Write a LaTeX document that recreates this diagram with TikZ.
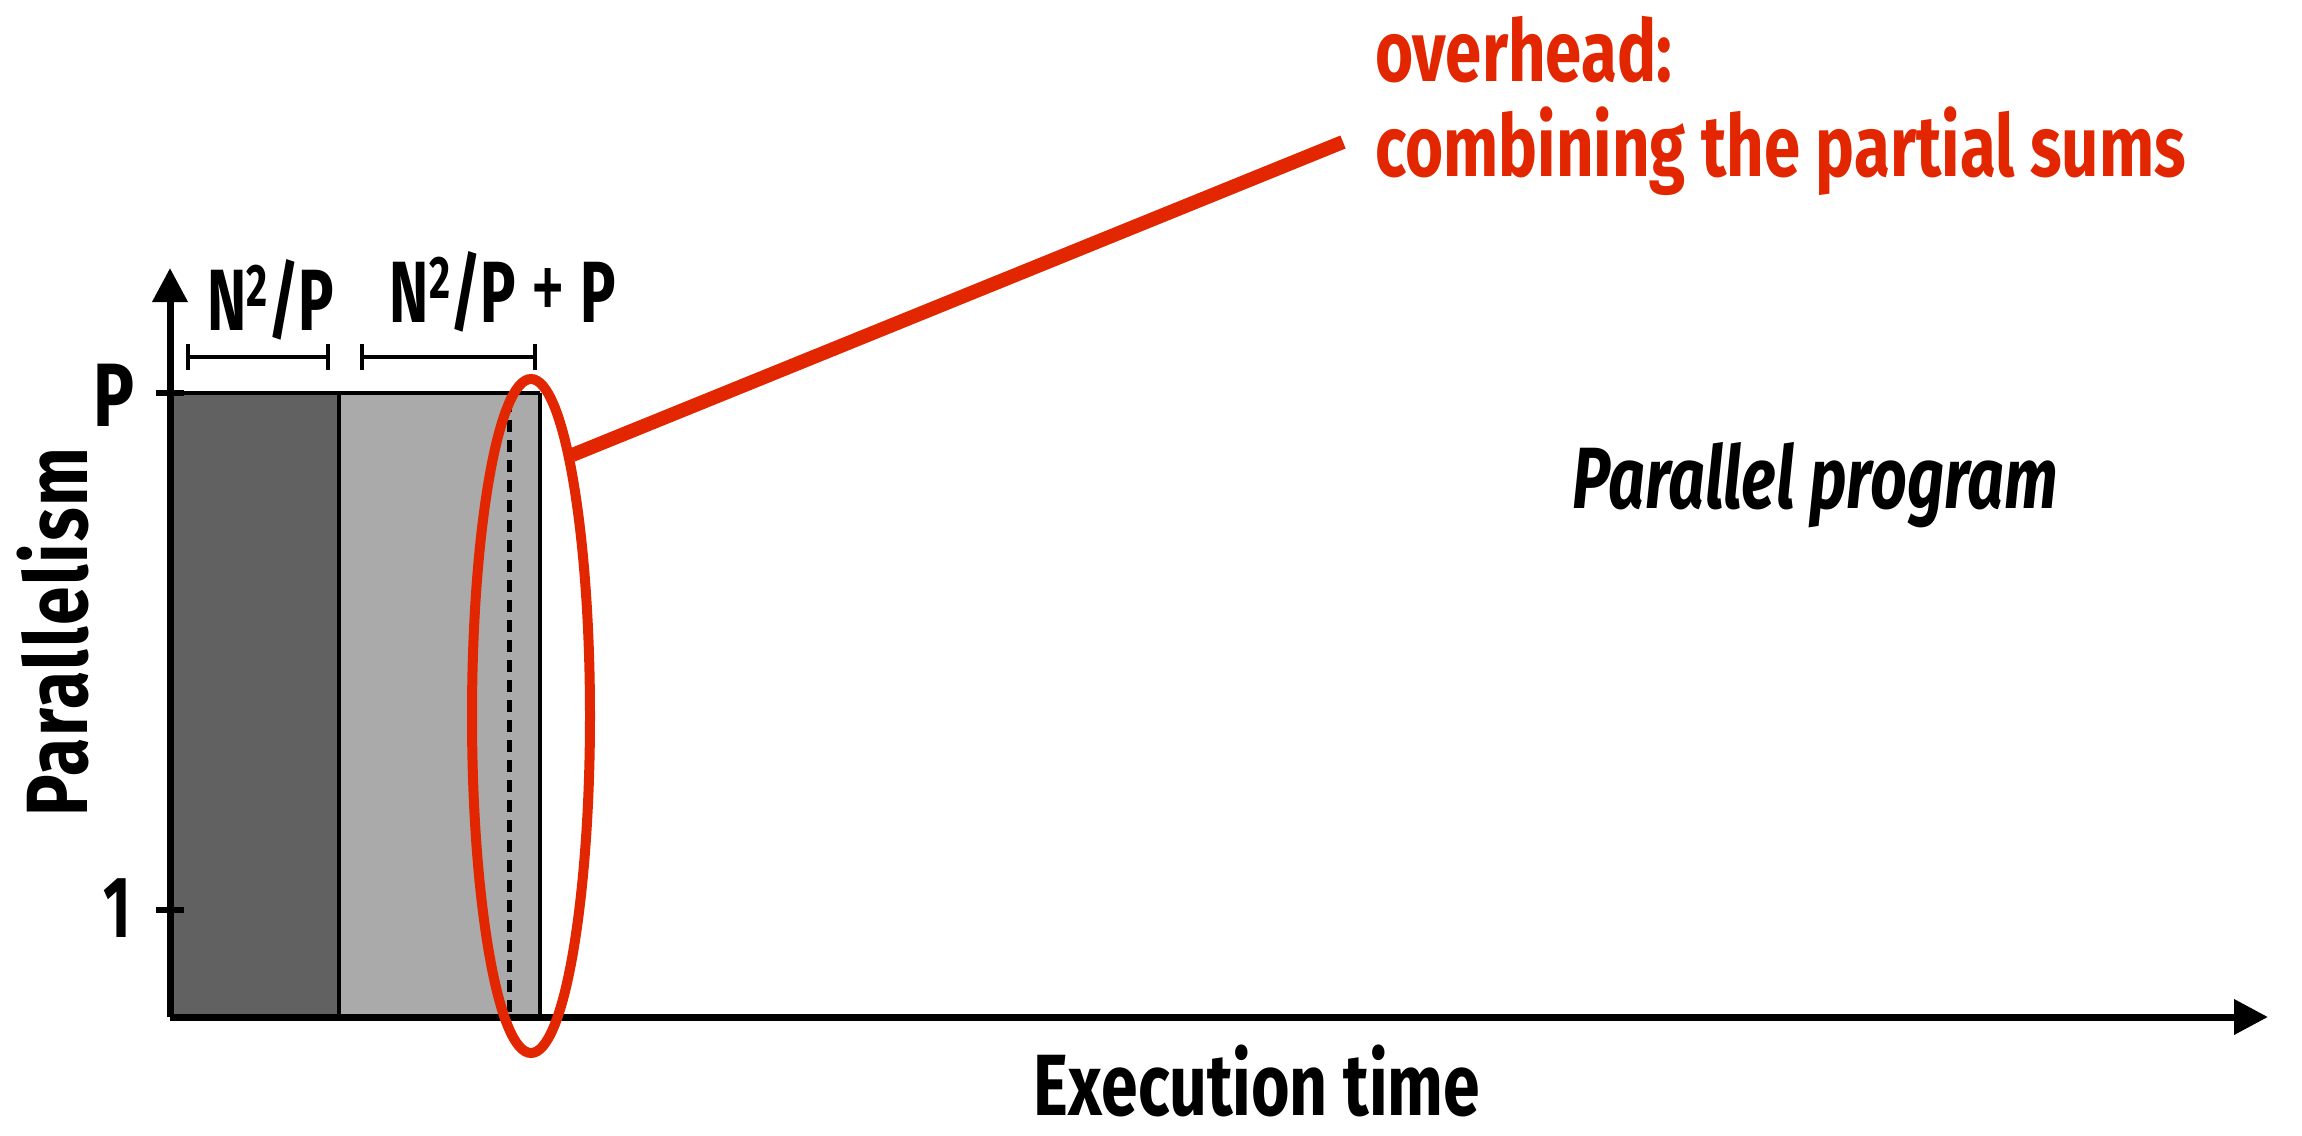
\documentclass[tikz,border=0pt]{standalone}
\usepackage{fontspec}
\setmainfont{Fira Sans}[FakeStretch=0.68]
\newfontfamily\titlefont{Fira Sans}[FakeStretch=0.76]
\newfontfamily\slantfont{Fira Sans}[FakeStretch=0.74]
\newfontfamily\spacedfont{Fira Sans}[FakeStretch=0.8,LetterSpace=2]
\usetikzlibrary{arrows.meta,shapes.geometric}
\definecolor{hotred}{RGB}{226,38,0}
\definecolor{phaseA}{RGB}{97,97,97}
\definecolor{phaseB}{RGB}{170,170,170}
\begin{document}
\begin{tikzpicture}[x=1pt,y=-1pt,
  axis/.style={line width=7pt,-{Triangle[length=34pt,width=34pt]}},
  phase/.style={draw=black,line width=4pt},
  tickmark/.style={line width=6pt},
  span/.style={line width=4pt,{Bar[width=26pt,line width=4pt]}-{Bar[width=26pt,line width=4pt]}},
  lbl/.style={inner sep=0pt,anchor=base,text depth=0pt,font=\fontsize{87}{90}\selectfont\bfseries},
  title/.style={lbl,font=\fontsize{87}{90}\selectfont\titlefont\bfseries},
  note/.style={inner sep=0pt,anchor=base west,text depth=0pt,text=hotred,font=\fontsize{86}{90}\selectfont\titlefont\bfseries}]
\useasboundingbox (0,0) rectangle (2302,1135);

% key points of the plot
\coordinate (origin) at (170,1017);
\coordinate (ytop) at (170,268);
\coordinate (xend) at (2268,1017);

% work phases
\fill[phaseA] (170,393) rectangle (339,1017);
\fill[phaseB] (339,393) rectangle (540,1017);
\draw[phase] (170,393) -- (540,393);
\draw[phase] (339,393) -- (339,1017);
\draw[phase] (540,393) -- (540,1017);
\draw[line width=5pt,dash pattern=on 12pt off 8pt] (509,400) -- (509,1017);

% axes
\draw[axis] (origin) -- (ytop);
\draw[axis] (origin) -- (xend);

% ticks on the parallelism axis
\coordinate (tickPa) at (156,393);
\coordinate (tickPb) at (184,393);
\coordinate (tick1a) at (156,910);
\coordinate (tick1b) at (184,910);
\draw[tickmark] (tickPa) -- (tickPb);
\draw[tickmark] (tick1a) -- (tick1b);
\node[lbl,font=\fontsize{90}{90}\selectfont\titlefont\bfseries] (labP) at (114,426) {P};
\node[lbl] (lab1) at (117,937) {1};

% duration spans
\coordinate (s1a) at (186,357);
\coordinate (s1b) at (330,357);
\coordinate (s2a) at (360,357);
\coordinate (s2b) at (537,357);
\draw[span] (s1a) -- (s1b);
\draw[span] (s2a) -- (s2b);
\node[lbl] (dur1) at (271,330) {N\raisebox{0.27em}{\fontsize{60}{60}\selectfont 2}/P};
\node[lbl] (dur2) at (503,322) {N\raisebox{0.27em}{\fontsize{60}{60}\selectfont 2}/P\,{\mdseries\fontsize{104}{104}\selectfont +}\,P};

% axis titles
\node[title] (xtitle) at (1257,1115) {Execution time};
\node[lbl,rotate=90,font=\fontsize{87}{90}\selectfont\spacedfont\bfseries] (ytitle) at (87,632) {Parallelism};
\node[lbl,font=\fontsize{87}{90}\selectfont\slantfont\bfseries\itshape] (prog) at (1815,508) {Parallel program};

% highlighted overhead
\node[draw=hotred,line width=10pt,ellipse,minimum width=118pt,minimum height=674pt,inner sep=0pt] (ring) at (531,716) {};
\coordinate (noteEnd) at (1343,142);
\draw[hotred,line width=14pt] (ring.81) -- (noteEnd);
\node[note] (note1) at (1375,81) {overhead:};
\node[note] (note2) at (1375,176) {combining the partial sums};
\end{tikzpicture}
\end{document}
